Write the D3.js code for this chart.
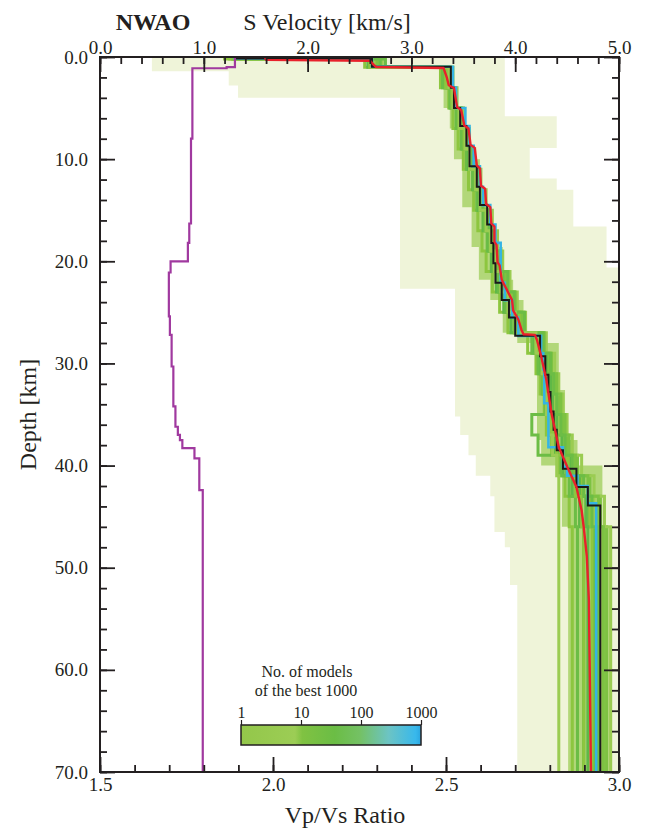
<!DOCTYPE html>
<html>
<head>
<meta charset="utf-8">
<script src="https://cdn.jsdelivr.net/npm/d3@7"></script>
<style>
  body { margin: 0; background: #fff; }
  text { font-family: "Liberation Serif", "Times New Roman", serif; fill: #231f20; }
</style>
</head>
<body>
<svg id="chart" width="645" height="829"></svg>
<script>
// ---------------- data ----------------
const stationName = "NWAO";
const velTicks = [0, 1, 2, 3, 4, 5];
const ratioTicks = [1.5, 2.0, 2.5, 3.0];
const depthTicks = [0, 10, 20, 30, 40, 50, 60, 70];
const countTicks = [1, 10, 100, 1000];

// envelope of all sampled models (layer top depth, min / max S velocity)
const envDepth  = [0, 1.4, 2.8, 4.0, 5.8, 8.9, 11.9, 13.0, 16.6, 20.6, 22.7, 35.2, 37.0, 39.0, 41.0, 43.0, 46.5, 48.0, 51.7];
const envMinVel = [0.50, 1.24, 1.33, 2.89, 2.89, 2.89, 2.89, 2.89, 2.89, 2.89, 3.42, 3.47, 3.55, 3.62, 3.76, 3.80, 3.90, 3.95, 4.02];
const envMaxVel = [3.90, 3.90, 3.90, 3.90, 4.40, 4.14, 4.40, 4.56, 4.88, 5.00, 5.00, 5.00, 5.00, 5.00, 5.00, 5.00, 5.00, 5.00, 5.00];

// spread of the best 1000 models (layer top depth, min / max S velocity)
const bandDepth = [1.0, 5, 7, 10, 14.7, 18.6, 21.8, 23.8, 27, 28, 32.6, 37.5, 40, 46];
const bandLo    = [3.31, 3.37, 3.41, 3.49, 3.58, 3.65, 3.76, 3.88, 4.02, 4.21, 4.21, 4.25, 4.45, 4.51];
const bandHi    = [3.40, 3.47, 3.55, 3.66, 3.76, 3.88, 3.98, 4.08, 4.24, 4.42, 4.48, 4.60, 4.84, 4.92];

// best 1000 models (layer top depth, S velocity per layer)
const goodDepth = [0, 0.2, 1.0, 3, 5, 7, 9, 11, 13, 15, 17, 19, 21, 23, 25, 27, 29, 31, 33, 35, 37, 39, 41, 43, 46];
const goodModels = [
  [1.20,2.55,3.28,3.36,3.40,3.45,3.50,3.55,3.60,3.64,3.68,3.72,3.78,3.85,3.93,4.12,4.20,4.24,4.28,4.30,4.35,4.42,4.48,4.52,4.55],
  [1.30,2.62,3.35,3.40,3.47,3.52,3.56,3.62,3.66,3.72,3.76,3.80,3.86,3.92,4.00,4.22,4.28,4.31,4.34,4.37,4.41,4.49,4.60,4.70,4.76],
  [1.28,2.72,3.38,3.44,3.50,3.56,3.60,3.66,3.70,3.76,3.80,3.85,3.90,3.97,4.05,4.26,4.31,4.35,4.38,4.42,4.46,4.56,4.66,4.76,4.82],
  [1.35,2.58,3.32,3.38,3.44,3.49,3.54,3.59,3.64,3.69,3.74,3.77,3.82,3.89,3.96,4.18,4.24,4.27,4.30,4.33,4.38,4.46,4.55,4.62,4.66],
  [1.30,2.66,3.40,3.42,3.48,3.54,3.58,3.64,3.68,3.74,3.79,3.83,3.90,3.99,4.08,4.24,4.33,4.38,4.42,4.46,4.50,4.60,4.72,4.82,4.88],
  [1.25,2.60,3.36,3.40,3.45,3.50,3.57,3.61,3.67,3.71,3.77,3.81,3.86,3.94,4.03,4.20,4.27,4.30,4.33,4.36,4.40,4.52,4.64,4.72,4.74],
  [1.30,2.75,3.30,3.37,3.43,3.48,3.53,3.60,3.63,3.70,3.73,3.79,3.84,3.91,3.99,4.16,4.22,4.26,4.29,4.16,4.22,4.44,4.52,4.58,4.60],
  [1.32,2.64,3.39,3.43,3.50,3.55,3.61,3.67,3.72,3.78,3.83,3.88,3.95,4.02,4.10,4.30,4.38,4.42,4.46,4.50,4.55,4.64,4.76,4.86,4.92],
  [1.30,2.62,3.34,3.41,3.46,3.52,3.55,3.63,3.65,3.73,3.75,3.82,3.88,3.95,4.02,4.24,4.30,4.34,4.36,4.40,4.45,4.54,4.62,4.68,4.70],
  [1.28,2.68,3.37,3.42,3.48,3.53,3.59,3.64,3.69,3.75,3.78,3.84,3.92,4.00,4.06,4.28,4.35,4.40,4.44,4.48,4.52,4.58,4.70,4.80,4.85],
  [1.30,2.60,3.33,3.39,3.46,3.51,3.56,3.62,3.67,3.72,3.76,3.81,3.87,3.96,4.04,4.22,4.26,4.29,4.32,4.35,4.40,4.50,4.58,4.64,4.66],
  [1.33,2.70,3.36,3.41,3.47,3.53,3.58,3.64,3.68,3.74,3.80,3.86,3.93,3.99,4.09,4.27,4.34,4.37,4.40,4.44,4.48,4.55,4.66,4.74,4.80],
  [1.30,2.62,3.36,3.40,3.46,3.52,3.56,3.62,3.66,3.72,3.76,3.80,3.86,3.93,4.00,4.20,4.26,4.28,4.30,4.32,4.36,4.40,4.42,4.42,4.42]
];

// best-fit model
const bestDepth = [0, 0.15, 0.95, 3.0, 5.0, 6.75, 8.7, 10.7, 12.7, 14.5, 16.4, 18.2, 20.2, 22.1, 23.8, 25.5, 27.3, 29.3, 31.1, 32.8, 34.7, 36.5, 38.5, 40.3, 42.1, 43.9];
const bestVel   = [1.30, 2.62, 3.38, 3.41, 3.47, 3.53, 3.56, 3.63, 3.66, 3.73, 3.77, 3.79, 3.81, 3.87, 3.94, 4.00, 4.24, 4.29, 4.32, 4.34, 4.37, 4.40, 4.46, 4.59, 4.70, 4.82];

// most frequent model
const modeDepth = [0, 0.15, 0.95, 3.0, 5.0, 6.75, 8.7, 10.7, 12.7, 14.5, 16.4, 18.2, 20.2, 22.1, 23.8, 25.5, 27.3, 29.0, 30.6, 33.9, 38.2, 40.1, 41.0, 42.0, 43.7];
const modeVel   = [1.30, 2.62, 3.40, 3.43, 3.52, 3.56, 3.60, 3.66, 3.69, 3.76, 3.81, 3.86, 3.86, 3.90, 3.97, 4.03, 4.25, 4.27, 4.28, 4.32, 4.46, 4.50, 4.60, 4.70, 4.78];

// average model (depth, S velocity)
const meanDepth = [0, 0.28, 0.36, 0.8, 0.98, 1.08, 1.96, 2.77, 3.04, 4.9, 5.2, 6.7, 7.0, 8.6, 8.9, 10.6, 10.9, 12.6, 12.9, 14.4, 14.7, 16.3, 16.6, 18.1, 18.4, 20.1, 20.4, 21.8, 23.8, 24.8, 25.7, 26.7, 27.15, 27.2, 27.7, 29.3, 31.6, 34.9, 38.2, 40.1, 42.1, 44.4, 46.0, 48.9, 53.2, 70];
const meanVel   = [1.59, 1.60, 2.60, 2.64, 2.66, 3.31, 3.34, 3.36, 3.41, 3.44, 3.48, 3.51, 3.55, 3.57, 3.61, 3.63, 3.66, 3.67, 3.71, 3.72, 3.76, 3.77, 3.80, 3.80, 3.82, 3.83, 3.85, 3.87, 3.97, 3.98, 4.03, 4.06, 4.08, 4.19, 4.21, 4.25, 4.30, 4.35, 4.42, 4.50, 4.59, 4.64, 4.66, 4.69, 4.71, 4.73];

// Vp/Vs ratio of the best-fit model
const ratioDepth = [0, 1.0, 1.1, 8.0, 16.3, 18.2, 20.0, 21.1, 25.4, 27.2, 30.3, 34.2, 36.2, 37.0, 37.5, 38.3, 39.3, 42.4];
const ratioVal   = [1.890, 1.866, 1.767, 1.763, 1.758, 1.754, 1.704, 1.699, 1.702, 1.707, 1.712, 1.718, 1.725, 1.731, 1.738, 1.773, 1.787, 1.797];

// ---------------- layout ----------------
const svg = d3.select("#chart");
const plotL = 100, plotR = 619, plotT = 57, plotB = 772;
const maxDepth = 70;

const xV = d3.scaleLinear().domain([0, 5]).range([plotL, plotR]);
const xR = d3.scaleLinear().domain([1.5, 3.0]).range([plotL, plotR]);
const yD = d3.scaleLinear().domain([0, maxDepth]).range([plotT, plotB]);

const defs = svg.append("defs");
defs.append("clipPath").attr("id", "plotClip")
  .append("rect").attr("x", plotL).attr("y", plotT)
  .attr("width", plotR - plotL).attr("height", plotB - plotT);

const plot = svg.append("g").attr("clip-path", "url(#plotClip)");

// turn layered model into step vertices
function steps(depths, vals) {
  const pts = [];
  vals.forEach((v, i) => {
    const d0 = depths[i];
    const d1 = i + 1 < depths.length ? depths[i + 1] : maxDepth;
    pts.push([v, d0], [v, d1]);
  });
  return pts;
}
// turn layered min/max into step rows for an area
function stepRows(depths, lo, hi) {
  const rows = [];
  depths.forEach((d, i) => {
    const d1 = i + 1 < depths.length ? depths[i + 1] : maxDepth;
    rows.push({ d: d, lo: lo[i], hi: hi[i] }, { d: d1, lo: lo[i], hi: hi[i] });
  });
  return rows;
}
const velArea = d3.area().y(r => yD(r.d)).x0(r => xV(r.lo)).x1(r => xV(r.hi));

// envelope of all sampled models
plot.append("path")
  .datum(stepRows(envDepth, envMinVel, envMaxVel))
  .attr("fill", "#eff4d9")
  .attr("d", velArea);

// spread of the best 1000 models
plot.append("path")
  .datum(stepRows(bandDepth, bandLo, bandHi))
  .attr("fill", "#a3d060")
  .attr("fill-opacity", 0.8)
  .attr("d", velArea);

const velLine = d3.line().x(p => xV(p[0])).y(p => yD(p[1]));

// best 1000 models
const greens = ["#8dc63f", "#6cbd45", "#9bcc52", "#5fb847", "#7dc242"];
goodModels.forEach((m, i) => {
  plot.append("path")
    .datum(steps(goodDepth, m))
    .attr("fill", "none")
    .attr("stroke", greens[i % greens.length])
    .attr("stroke-width", 3)
    .attr("d", velLine);
});

// most frequent model
plot.append("path").datum(steps(modeDepth, modeVel))
  .attr("fill", "none").attr("stroke", "#35b4e4").attr("stroke-width", 2.6)
  .attr("d", velLine);

// best model
plot.append("path").datum(steps(bestDepth, bestVel))
  .attr("fill", "none").attr("stroke", "#1a1a1a").attr("stroke-width", 2)
  .attr("d", velLine);

// average model
plot.append("path").datum(meanDepth.map((d, i) => [meanVel[i], d]))
  .attr("fill", "none").attr("stroke", "#e8212b").attr("stroke-width", 2.4)
  .attr("stroke-linejoin", "round")
  .attr("d", velLine);

// Vp/Vs ratio
plot.append("path").datum(steps(ratioDepth, ratioVal))
  .attr("fill", "none").attr("stroke", "#a0399f").attr("stroke-width", 2.2)
  .attr("d", d3.line().x(p => xR(p[0])).y(p => yD(p[1])));

// ---------------- axes ----------------
const fmt = d3.format(".1f");
function styleAxis(g) {
  g.select(".domain").remove();
  g.selectAll(".tick line").attr("stroke", "#231f20").attr("stroke-width", 1.8);
  g.selectAll(".tick text").style("font-size", "19px").attr("fill", "#231f20")
    .style("font-family", "'Liberation Serif', 'Times New Roman', serif");
}

// top: S velocity
svg.append("g").attr("transform", `translate(0,${plotT})`)
  .call(d3.axisTop(xV).tickValues(d3.range(0, 5.001, 0.2)).tickSize(-7).tickFormat(""))
  .call(styleAxis);
svg.append("g").attr("transform", `translate(0,${plotT})`)
  .call(d3.axisTop(xV).tickValues(velTicks).tickSize(-15).tickPadding(3).tickFormat(fmt))
  .call(styleAxis);

// bottom: Vp/Vs
svg.append("g").attr("transform", `translate(0,${plotB})`)
  .call(d3.axisBottom(xR).tickValues(d3.range(1.5, 3.001, 0.1)).tickSize(-7).tickFormat(""))
  .call(styleAxis);
svg.append("g").attr("transform", `translate(0,${plotB})`)
  .call(d3.axisBottom(xR).tickValues(ratioTicks).tickSize(-15).tickPadding(6).tickFormat(fmt))
  .call(styleAxis);

// left / right: depth
svg.append("g").attr("transform", `translate(${plotL},0)`)
  .call(d3.axisLeft(yD).tickValues(d3.range(0, 70.001, 2)).tickSize(-7).tickFormat(""))
  .call(styleAxis);
svg.append("g").attr("transform", `translate(${plotL},0)`)
  .call(d3.axisLeft(yD).tickValues(depthTicks).tickSize(-15).tickPadding(12).tickFormat(fmt))
  .call(styleAxis);
svg.append("g").attr("transform", `translate(${plotR},0)`)
  .call(d3.axisRight(yD).tickValues(d3.range(0, 70.001, 2)).tickSize(-7).tickFormat(""))
  .call(styleAxis);
svg.append("g").attr("transform", `translate(${plotR},0)`)
  .call(d3.axisRight(yD).tickValues(depthTicks).tickSize(-15).tickFormat(""))
  .call(styleAxis);

// frame
svg.append("rect").attr("x", plotL).attr("y", plotT)
  .attr("width", plotR - plotL).attr("height", plotB - plotT)
  .attr("fill", "none").attr("stroke", "#231f20").attr("stroke-width", 2);

// titles
svg.append("text").attr("x", 153).attr("y", 30).attr("text-anchor", "middle")
  .style("font-size", "24px").style("font-weight", "bold").text(stationName);
svg.append("text").attr("x", 327).attr("y", 30).attr("text-anchor", "middle")
  .style("font-size", "24px").text("S Velocity [km/s]");
svg.append("text").attr("transform", `translate(36,${(plotT + plotB) / 2}) rotate(-90)`)
  .attr("text-anchor", "middle").style("font-size", "24px").text("Depth [km]");
svg.append("text").attr("x", 345).attr("y", 823).attr("text-anchor", "middle")
  .style("font-size", "24px").text("Vp/Vs Ratio");

// ---------------- colour bar ----------------
const cb = d3.scaleLog().domain([1, 1000]).range([241, 421]);
const cbTop = 725, cbH = 20;
const grad = defs.append("linearGradient").attr("id", "countGrad")
  .attr("x1", "0%").attr("x2", "100%");
[["0%", "#93c74a"], ["30%", "#9ccd55"], ["34%", "#80c242"], ["52%", "#6bbd45"],
 ["66%", "#74c164"], ["82%", "#6cc4c4"], ["97%", "#38b8ec"], ["100%", "#2aa6e0"]]
  .forEach(s => grad.append("stop").attr("offset", s[0]).attr("stop-color", s[1]));
svg.append("rect").attr("x", cb(1)).attr("y", cbTop)
  .attr("width", cb(1000) - cb(1)).attr("height", cbH)
  .attr("fill", "url(#countGrad)").attr("stroke", "#231f20").attr("stroke-width", 1.5);
const cbAxis = svg.append("g").attr("transform", `translate(0,${cbTop})`)
  .call(d3.axisTop(cb).tickValues(countTicks).tickSize(5).tickPadding(2).tickFormat(d3.format("d")));
cbAxis.select(".domain").remove();
cbAxis.selectAll(".tick line").attr("stroke", "#231f20").attr("stroke-width", 1.2);
cbAxis.selectAll(".tick text").style("font-size", "16px").attr("fill", "#231f20")
  .style("font-family", "'Liberation Serif', 'Times New Roman', serif");
svg.append("text").attr("x", 307).attr("y", 677).attr("text-anchor", "middle")
  .style("font-size", "16px").text("No. of models");
svg.append("text").attr("x", 306).attr("y", 696).attr("text-anchor", "middle")
  .style("font-size", "16px").text("of the best 1000");
</script>
</body>
</html>
